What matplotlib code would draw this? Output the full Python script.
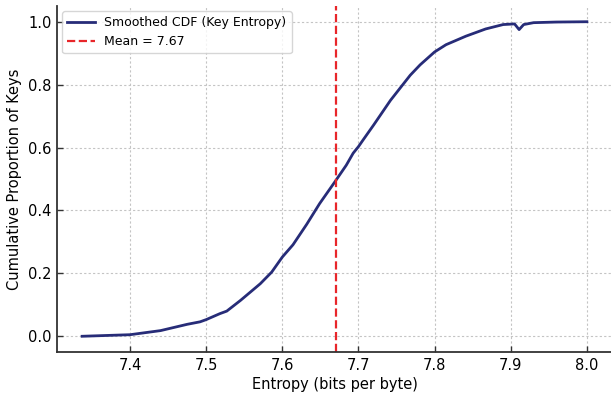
import matplotlib
matplotlib.use("Agg")
import matplotlib.pyplot as plt

# Smoothed cumulative distribution of per-key entropy
entropy = [7.337, 7.40, 7.44, 7.475, 7.492, 7.50, 7.518, 7.527, 7.545, 7.571,
           7.586, 7.60, 7.614, 7.632, 7.649, 7.669, 7.684, 7.693, 7.70, 7.706,
           7.72, 7.742, 7.755, 7.768, 7.781, 7.80, 7.815, 7.841, 7.867, 7.89,
           7.905, 7.911, 7.917, 7.93, 7.96, 8.00]
cdf = [0.000, 0.005, 0.018, 0.038, 0.046, 0.053, 0.072, 0.080, 0.114, 0.167,
       0.204, 0.252, 0.291, 0.356, 0.422, 0.491, 0.544, 0.582, 0.603, 0.624,
       0.672, 0.750, 0.790, 0.830, 0.863, 0.904, 0.927, 0.954, 0.977, 0.991,
       0.993, 0.975, 0.991, 0.997, 0.999, 1.000]
mean_entropy = 7.67

xticks = [7.4, 7.5, 7.6, 7.7, 7.8, 7.9, 8.0]
yticks = [0.0, 0.2, 0.4, 0.6, 0.8, 1.0]

fig = plt.figure(figsize=(6.11, 3.96), dpi=100)
ax = fig.add_axes([57 / 611, 1 - 352 / 396, (612 - 57) / 611, (352 - 6) / 396])

ax.plot(entropy, cdf, color="#272c78", lw=2.0, label="Smoothed CDF (Key Entropy)")
ax.axvline(mean_entropy, color="#e8262a", ls="--", lw=1.6,
           label=f"Mean = {mean_entropy:.2f}")

ax.set_xlim(7.304, 8.033)
ax.set_ylim(-0.05, 1.05)
ax.set_xticks(xticks)
ax.set_xticklabels([f"{t:.1f}" for t in xticks])
ax.set_yticks(yticks)
ax.set_yticklabels([f"{t:.1f}" for t in yticks])

ax.grid(True, color="#c4c4c4", linestyle=(0, (2, 2)), lw=0.8)
ax.set_axisbelow(True)
for side in ("top", "right"):
    ax.spines[side].set_visible(False)
for side in ("left", "bottom"):
    ax.spines[side].set_linewidth(1.3)
    ax.spines[side].set_color("#333333")
ax.tick_params(axis="both", direction="in", labelsize=10.5, length=4,
               width=1, color="#333333", pad=4)

ax.set_xlabel("Entropy (bits per byte)", fontsize=10.5, labelpad=3)
ax.set_ylabel("Cumulative Proportion of Keys", fontsize=10.5, labelpad=4)

ax.legend(loc="upper left", fontsize=9, frameon=True, edgecolor="#cccccc",
          fancybox=True, borderaxespad=0.4, handlelength=2.2)

fig.savefig("out.png", dpi=100)
